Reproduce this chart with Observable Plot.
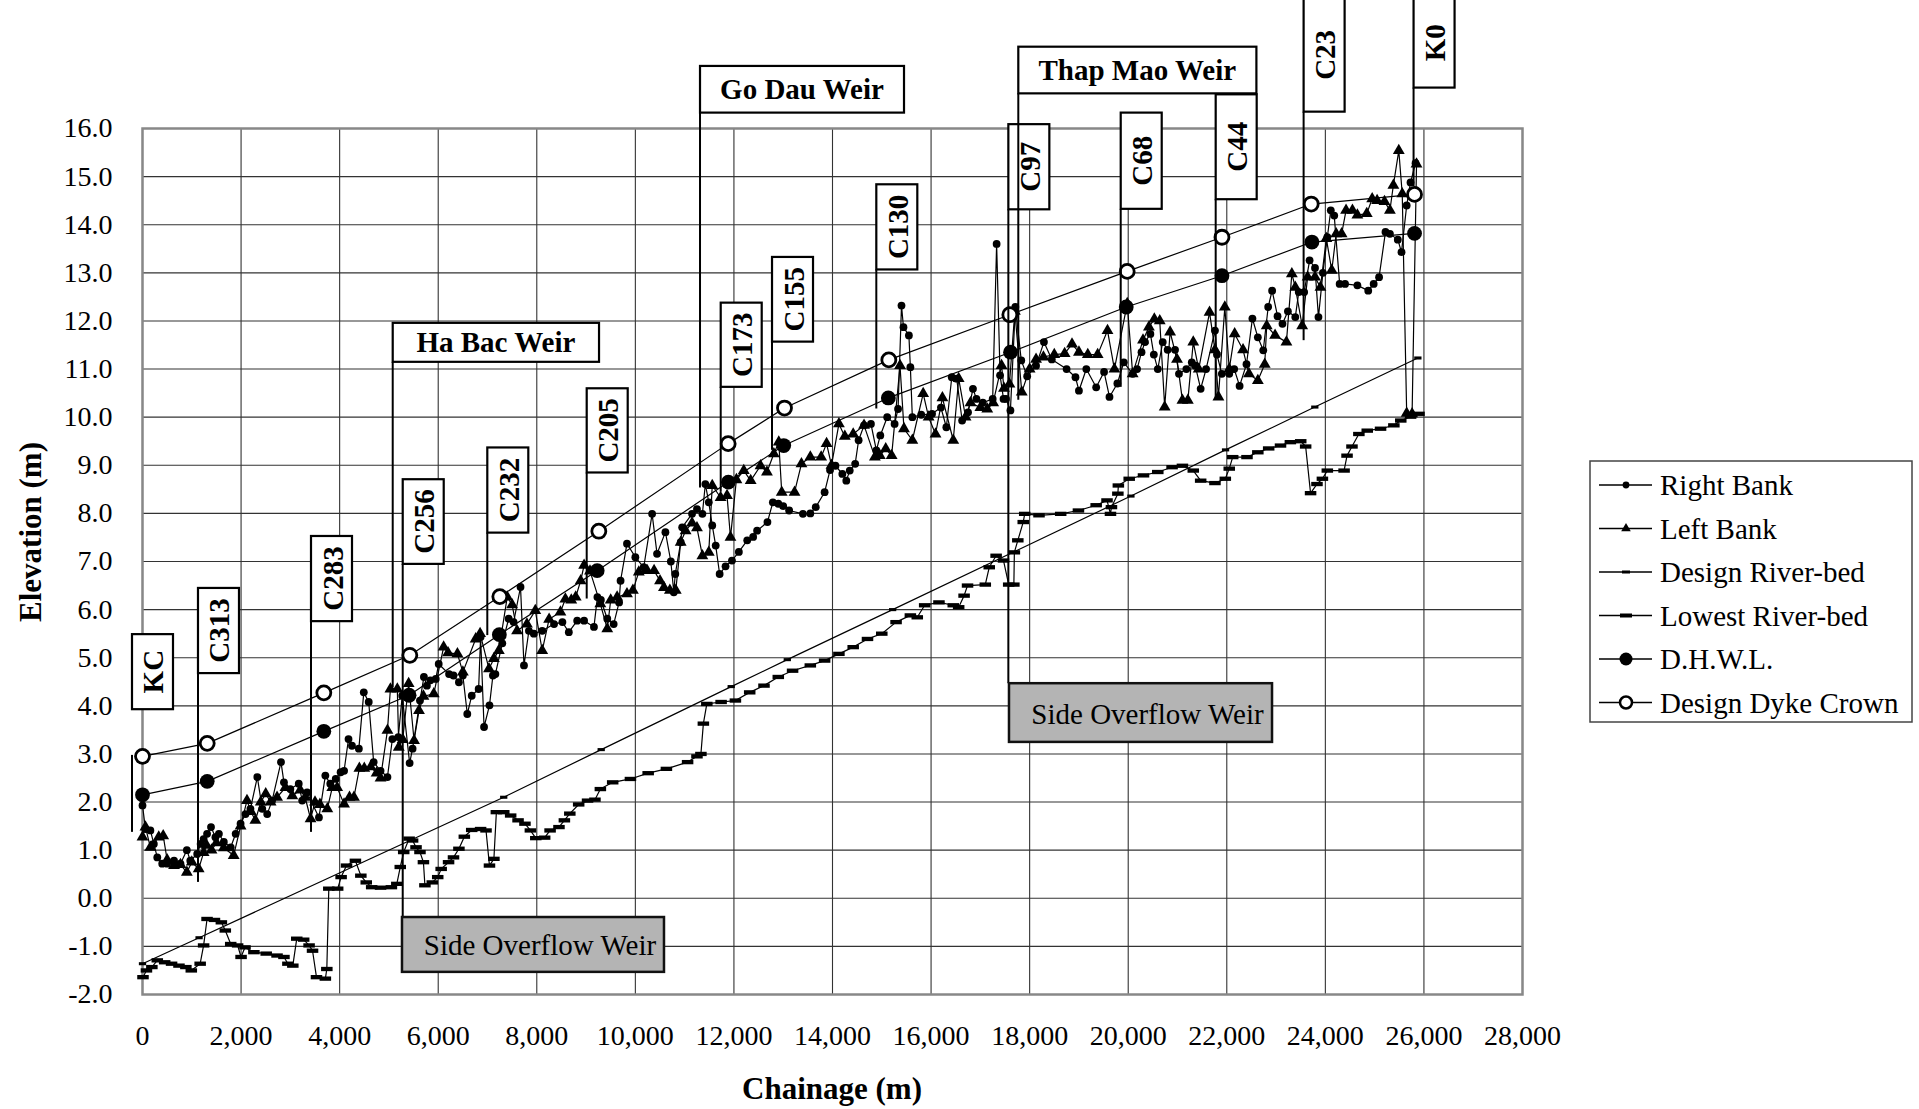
<!DOCTYPE html>
<html><head><meta charset="utf-8">
<script src="https://cdn.jsdelivr.net/npm/d3@7"></script>
<script src="https://cdn.jsdelivr.net/npm/@observablehq/plot@0.6"></script>
<style>body{margin:0;background:#fff;} #chart svg{display:block;}</style>
</head><body><div id="chart"></div>
<script>
// ---------------- DATA (chainage m, elevation m) ----------------
const rightBank = [[0,1.93],[60,1.44],[160,1.41],[230,1.13],[300,0.85],[400,0.72],[500,0.72],[640,0.78],[770,0.72],[900,1.0],[970,0.78],[1110,0.92],[1180,1.13],[1240,1.23],[1310,1.34],[1390,1.48],[1480,1.27],[1550,1.34],[1650,1.17],[1790,1.06],[1890,1.34],[1990,1.55],[2090,1.75],[2190,1.86],[2330,2.52],[2430,1.86],[2530,1.75],[2630,2.03],[2810,2.83],[2870,2.41],[3000,2.27],[3170,2.38],[3240,2.03],[3340,2.2],[3580,1.68],[3710,2.55],[3810,2.38],[3920,2.48],[4020,2.62],[4090,2.65],[4180,3.31],[4250,3.17],[4390,3.11],[4490,4.28],[4590,4.08],[4690,2.83],[4830,2.65],[4970,2.52],[5070,3.31],[5190,3.35],[5270,4.21],[5420,2.81],[5480,3.11],[5630,4.11],[5710,4.6],[5770,4.42],[5840,4.53],[5950,4.56],[6010,4.87],[6220,4.66],[6310,4.63],[6420,4.49],[6500,4.63],[6590,3.83],[6680,4.21],[6820,4.35],[6860,5.43],[6930,3.56],[7040,4.01],[7110,4.63],[7160,4.66],[7300,5.3],[7430,5.81],[7530,5.74],[7670,6.47],[7740,4.84],[7840,5.56],[7940,5.5],[8110,5.56],[8350,5.7],[8520,5.74],[8650,5.53],[8820,5.77],[8960,5.77],[9160,5.64],[9230,6.26],[9300,6.2],[9430,5.81],[9560,5.7],[9670,6.15],[9700,6.6],[9830,7.37],[10000,7.09],[10170,6.88],[10340,7.99],[10440,7.16],[10610,7.61],[10720,7.0],[10780,6.36],[10810,6.74],[10920,7.4],[10950,7.71],[11150,7.99],[11250,8.09],[11360,7.99],[11420,8.61],[11490,8.23],[11560,7.75],[11630,7.33],[11710,6.74],[11830,6.9],[11960,7.02],[12100,7.2],[12270,7.44],[12390,7.51],[12470,7.64],[12680,7.82],[12790,8.23],[12900,8.2],[13000,8.15],[13120,8.06],[13400,7.99],[13550,8.0],[13660,8.13],[13840,8.44],[13950,8.9],[14060,8.99],[14200,8.82],[14280,8.68],[14350,8.89],[14460,9.03],[14530,9.52],[14640,9.83],[14780,9.86],[14890,9.31],[14970,9.62],[15110,10.0],[15260,9.86],[15330,10.17],[15400,12.32],[15440,11.87],[15550,11.7],[15580,11.04],[15620,10.0],[15800,10.05],[16020,10.07],[16200,10.2],[16310,9.79],[16420,10.83],[16520,10.8],[16630,9.93],[16750,10.1],[16850,10.59],[16920,10.38],[17050,10.3],[17250,10.38],[17330,13.6],[17400,10.87],[17470,10.38],[17520,10.38],[17610,10.14],[17710,12.29],[17830,11.18],[17950,10.85],[18130,11.07],[18290,11.56],[18450,11.2],[18750,11.0],[18930,10.83],[19000,10.55],[19150,11.0],[19350,10.62],[19510,10.94],[19620,10.42],[19780,10.7],[19910,11.14],[20090,10.9],[20180,11.0],[20270,11.35],[20340,11.56],[20450,11.73],[20520,11.3],[20600,11.0],[20700,11.56],[20800,11.4],[20950,11.4],[21030,10.9],[21180,11.0],[21290,11.14],[21360,11.07],[21470,10.59],[21580,11.0],[21760,11.8],[21800,11.3],[21900,10.9],[22050,10.9],[22150,11.0],[22260,10.65],[22400,11.1],[22520,12.05],[22630,11.66],[22740,11.39],[22840,12.29],[22920,12.63],[23030,12.1],[23130,11.94],[23240,12.2],[23390,12.08],[23460,12.6],[23570,12.6],[23680,13.26],[23790,13.1],[23860,12.08],[23950,13.0],[24040,13.74],[24110,14.3],[24180,14.19],[24290,12.77],[24400,12.77],[24650,12.74],[24870,12.63],[24980,12.77],[25090,12.91],[25220,13.85],[25310,13.81],[25470,13.69],[25545,13.43],[25650,14.4],[25728,14.88],[25830,15.28]];

const leftBank = [[0,1.27],[60,1.48],[160,1.06],[330,1.27],[420,1.3],[500,0.8],[640,0.68],[770,0.7],[900,0.54],[1000,0.75],[1140,0.61],[1240,0.95],[1300,1.1],[1400,1.0],[1500,1.15],[1650,1.05],[1850,0.89],[1990,1.5],[2120,2.03],[2200,1.8],[2290,1.62],[2400,2.0],[2500,2.17],[2600,2.0],[2730,2.1],[2900,2.3],[3040,2.13],[3200,2.25],[3300,2.1],[3410,1.65],[3500,2.0],[3600,1.95],[3750,1.86],[3850,2.3],[3950,2.3],[4090,1.96],[4200,2.1],[4290,2.1],[4400,2.7],[4500,2.7],[4630,2.73],[4750,2.6],[4830,2.5],[4970,3.49],[5030,4.35],[5170,4.35],[5200,3.14],[5280,3.3],[5400,4.46],[5510,3.28],[5610,3.9],[5700,4.2],[5910,4.25],[6110,5.22],[6200,5.1],[6390,5.08],[6500,4.7],[6760,5.39],[6850,5.5],[7030,4.77],[7130,4.98],[7230,5.15],[7400,6.26],[7500,6.1],[7600,5.56],[7800,5.7],[7970,5.98],[8110,5.15],[8250,5.8],[8480,5.95],[8580,6.22],[8700,6.2],[8790,6.26],[8890,6.6],[8960,6.92],[9080,6.8],[9290,6.12],[9430,5.6],[9500,6.2],[9630,6.26],[9830,6.33],[9950,6.4],[10070,6.78],[10240,6.81],[10380,6.81],[10500,6.6],[10580,6.46],[10700,6.4],[10820,6.4],[10920,7.4],[11020,7.64],[11150,7.8],[11250,7.7],[11360,7.12],[11490,7.19],[11560,8.58],[11730,8.33],[11860,8.37],[11930,7.5],[12050,8.7],[12200,8.89],[12340,8.68],[12540,8.99],[12670,8.86],[12810,9.24],[12910,9.48],[12970,8.44],[13230,8.44],[13370,9.03],[13550,9.17],[13770,9.17],[13880,9.45],[13980,9.0],[14130,9.86],[14250,9.6],[14420,9.65],[14640,9.83],[14860,9.17],[14960,9.2],[15080,9.34],[15200,9.2],[15370,11.07],[15450,9.76],[15620,9.52],[15840,10.49],[15950,10.0],[16090,9.65],[16230,10.4],[16450,9.52],[16560,10.8],[16700,10.0],[16800,10.3],[17000,10.2],[17140,10.17],[17260,10.3],[17430,11.07],[17480,10.6],[17590,10.69],[17700,12.2],[17840,10.52],[18000,11.0],[18130,11.2],[18280,11.25],[18500,11.3],[18710,11.32],[18860,11.52],[19000,11.35],[19180,11.3],[19380,11.3],[19580,11.8],[19720,11.0],[19980,12.36],[20090,10.9],[20300,11.6],[20420,11.87],[20530,12.04],[20640,12.0],[20740,10.21],[20850,11.77],[20990,11.2],[21100,10.35],[21210,10.35],[21320,11.56],[21430,11.0],[21650,12.18],[21760,11.4],[21830,10.42],[21960,12.29],[22050,11.0],[22160,11.73],[22330,11.4],[22450,10.9],[22630,10.76],[22770,11.1],[22810,11.9],[22980,11.7],[23210,11.56],[23320,12.98],[23390,12.7],[23530,11.9],[23640,12.91],[23790,12.91],[23900,12.7],[24020,13.71],[24130,13.05],[24220,13.81],[24330,13.81],[24420,14.3],[24550,14.3],[24650,14.2],[24840,14.23],[24950,14.54],[25050,14.5],[25200,14.48],[25310,14.3],[25380,14.82],[25490,15.54],[25560,14.64],[25650,10.08],[25760,10.07],[25850,15.26]];

const designRiverBed = [[0,-1.36],[1148,-0.82],[7329,2.1],[9307,3.09],[11945,4.4],[13083,4.96],[15220,6.0],[20055,8.36],[21975,9.32],[23786,10.21],[25877,11.23]];

const lowestRiverBed = [[10,-1.64],[80,-1.5],[190,-1.43],[300,-1.29],[450,-1.33],[590,-1.36],[740,-1.4],[880,-1.43],[990,-1.5],[1170,-1.36],[1240,-0.98],[1310,-0.43],[1460,-0.45],[1600,-0.5],[1680,-0.67],[1790,-0.95],[1930,-0.98],[2000,-1.22],[2080,-1.02],[2260,-1.12],[2510,-1.15],[2730,-1.19],[2870,-1.22],[2950,-1.36],[3050,-1.4],[3130,-0.84],[3270,-0.86],[3380,-0.98],[3450,-1.09],[3530,-1.64],[3710,-1.67],[3740,-1.47],[3780,0.2],[3960,0.2],[4030,0.44],[4140,0.68],[4320,0.78],[4430,0.47],[4540,0.33],[4650,0.23],[4830,0.22],[5050,0.23],[5160,0.3],[5230,0.65],[5300,0.96],[5410,1.24],[5480,1.2],[5550,1.06],[5630,0.96],[5700,0.75],[5730,0.27],[5880,0.33],[5990,0.44],[6060,0.61],[6210,0.75],[6310,0.85],[6420,1.03],[6530,1.28],[6680,1.42],[6860,1.44],[6970,1.41],[7040,0.68],[7130,0.82],[7180,1.79],[7330,1.79],[7470,1.72],[7620,1.62],[7760,1.55],[7870,1.41],[7980,1.25],[8160,1.26],[8270,1.41],[8450,1.48],[8560,1.62],[8670,1.76],[8850,1.95],[9030,2.03],[9180,2.05],[9290,2.27],[9540,2.41],[9900,2.48],[10260,2.6],[10630,2.69],[11060,2.83],[11250,2.95],[11330,3.0],[11380,3.63],[11450,4.04],[11740,4.08],[12030,4.11],[12320,4.28],[12610,4.42],[12900,4.6],[13190,4.73],[13550,4.84],[13840,4.94],[14130,5.08],[14420,5.22],[14710,5.39],[15000,5.5],[15290,5.74],[15580,5.88],[15720,5.84],[15870,6.09],[16160,6.15],[16450,6.09],[16560,6.05],[16670,6.29],[16740,6.5],[17100,6.52],[17180,6.88],[17320,7.12],[17470,7.02],[17575,6.52],[17680,6.52],[17690,7.19],[17760,7.44],[17870,7.82],[17900,7.99],[18190,7.96],[18630,7.99],[18990,8.06],[19350,8.17],[19570,8.27],[19640,7.99],[19660,8.13],[19790,8.41],[19800,8.58],[20020,8.72],[20310,8.79],[20600,8.86],[20890,8.96],[21100,8.99],[21320,8.89],[21470,8.68],[21760,8.63],[21970,8.72],[22050,8.93],[22120,9.17],[22410,9.17],[22630,9.27],[22850,9.35],[23090,9.41],[23290,9.48],[23500,9.5],[23600,9.39],[23700,8.42],[23830,8.61],[23940,8.72],[24040,8.89],[24380,8.89],[24440,9.2],[24540,9.39],[24680,9.65],[24850,9.72],[25120,9.76],[25390,9.83],[25530,9.93],[25730,10.01],[25900,10.07]];

const dhwl = [[0,2.15],[1313,2.43],[3679,3.47],[5409,4.22],[7240,5.48],[9225,6.81],[11887,8.65],[13010,9.41],[15133,10.4],[17612,11.35],[19960,12.29],[21902,12.94],[23727,13.64],[25809,13.82]];

const dykeCrown = [[0,2.95],[1313,3.22],[3679,4.27],[5424,5.05],[7250,6.27],[9259,7.63],[11883,9.45],[13026,10.19],[15143,11.19],[17598,12.13],[19979,13.03],[21902,13.74],[23713,14.43],[25809,14.63]];

// Section labels: name, chainage of pointer, box top / bottom elevation, pointer end elevation
const sectionNames    = ["KC","C313","C283","C256","C232","C205","C173","C155","C130","C97","C68","C44","C23","K0"];
const sectionChainage = [-203,1136,3429,5290,7006,9023,11742,12783,14899,17578,19858,21785,23569,25800];
const sectionBoxTop   = [5.48,6.44,7.52,8.70,9.36,10.59,12.37,13.32,14.83,16.08,16.32,16.70,18.70,18.70];
const sectionBoxBot   = [3.92,4.67,5.75,6.94,7.59,8.84,10.62,11.56,13.06,14.31,14.32,14.52,16.34,16.84];
const sectionLineEnd  = [1.37,0.33,1.37,-0.40,5.46,6.22,8.44,9.31,10.17,4.46,10.62,10.39,11.59,14.79];
const kcLineTop = 2.97;

// Weir labels
const weirNames    = ["Ha Bac Weir","Go Dau Weir","Thap Mao Weir"];
const weirChainage = [5087,11322,17780];
const weirRight    = [9273,15461,22611];
const weirBoxTop   = [11.95,17.29,17.69];
const weirBoxBot   = [11.14,16.32,16.72];
const weirLineEnd  = [4.38,8.53,10.35];

// Side overflow weir boxes
const sowLeft  = [5275,17591];
const sowRight = [10591,22928];
const sowTop   = [-0.40,4.46];
const sowBot   = [-1.54,3.24];

const xTicks = d3.range(0, 28001, 2000);
const yTicks = d3.range(-2, 16.001, 1);
const legendLabels = ["Right Bank","Left Bank","Design River-bed","Lowest River-bed","D.H.W.L.","Design Dyke Crown"];

// ---------------- CHART ----------------
const W = 1919, H = 1109;
const FONT = "'Liberation Serif','Times New Roman',serif";
const obj = a => a.map(([c, e]) => ({c, e}));
const dash = (kx, ky) => ({draw(ctx, size) {
  const r = Math.sqrt(size / Math.PI);
  ctx.moveTo(-r * kx, -r * ky); ctx.lineTo(r * kx, -r * ky);
  ctx.lineTo(r * kx, r * ky); ctx.lineTo(-r * kx, r * ky); ctx.closePath();
}});
const lineOpt = {x: "c", y: "e", stroke: "#000", strokeWidth: 1.2};

const plot = Plot.plot({
  width: W, height: H,
  marginLeft: 142, marginTop: 128, marginRight: W - 1522, marginBottom: H - 994,
  style: {fontFamily: FONT, fontSize: "28px", background: "#fff", color: "#000", overflow: "visible"},
  x: {domain: [0, 28000], ticks: xTicks, tickFormat: d3.format(","), label: null, tickSize: 0, tickPadding: 31},
  y: {domain: [-2, 16], ticks: yTicks, tickFormat: d => d.toFixed(1), label: null, tickSize: 0, tickPadding: 30},
  marks: [
    Plot.ruleX(xTicks, {stroke: "#333", strokeWidth: 1.1}),
    Plot.ruleY(yTicks, {stroke: "#333", strokeWidth: 1.1}),
    Plot.frame({stroke: "#888", strokeWidth: 2.5}),
    Plot.line(obj(lowestRiverBed), lineOpt),
    Plot.dot(obj(lowestRiverBed), {x: "c", y: "e", r: 3.6, symbol: dash(1.6, 0.6), fill: "#000", stroke: "none"}),
    Plot.line(obj(designRiverBed), lineOpt),
    Plot.dot(obj(designRiverBed), {x: "c", y: "e", r: 2.8, symbol: dash(1.3, 0.55), fill: "#000", stroke: "none"}),
    Plot.line(obj(leftBank), lineOpt),
    Plot.dot(obj(leftBank), {x: "c", y: "e", r: 4.4, symbol: "triangle", fill: "#000", stroke: "none"}),
    Plot.line(obj(rightBank), lineOpt),
    Plot.dot(obj(rightBank), {x: "c", y: "e", r: 3.9, fill: "#000", stroke: "none"}),
    Plot.line(obj(dhwl), lineOpt),
    Plot.dot(obj(dhwl), {x: "c", y: "e", r: 7.4, fill: "#000", stroke: "none"}),
    Plot.line(obj(dykeCrown), lineOpt),
    Plot.dot(obj(dykeCrown), {x: "c", y: "e", r: 7, fill: "#fff", stroke: "#000", strokeWidth: 2.8})
  ]
});
document.getElementById("chart").appendChild(plot);

// ---------------- ANNOTATIONS ----------------
const X = v => plot.scale("x").apply(v), Y = v => plot.scale("y").apply(v);
const svg = d3.select(plot);
const g = svg.append("g").attr("font-family", FONT).attr("fill", "#000").attr("text-anchor", "start");
const BW = 41;

// section pointer lines and boxes
sectionNames.forEach((name, i) => {
  const x = X(sectionChainage[i]);
  const y1 = i === 0 ? Y(kcLineTop) : Y(sectionBoxBot[i]);
  g.append("line").attr("x1", x).attr("x2", x).attr("y1", y1).attr("y2", Y(sectionLineEnd[i]))
    .attr("stroke", "#000").attr("stroke-width", 2);
  const yt = Y(sectionBoxTop[i]), yb = Y(sectionBoxBot[i]);
  g.append("rect").attr("x", x).attr("y", yt).attr("width", BW).attr("height", yb - yt)
    .attr("fill", "#fff").attr("stroke", "#000").attr("stroke-width", 2.2);
  g.append("text").attr("transform", `translate(${x + BW / 2 + 1},${(yt + yb) / 2}) rotate(-90)`)
    .attr("text-anchor", "middle").attr("dominant-baseline", "central")
    .attr("font-weight", "bold").attr("font-size", 29).text(name);
});

// weir boxes
weirNames.forEach((name, i) => {
  const x = X(weirChainage[i]), xr = X(weirRight[i]);
  const yt = Y(weirBoxTop[i]), yb = Y(weirBoxBot[i]);
  g.append("line").attr("x1", x).attr("x2", x).attr("y1", yb).attr("y2", Y(weirLineEnd[i]))
    .attr("stroke", "#000").attr("stroke-width", 2);
  g.append("rect").attr("x", x).attr("y", yt).attr("width", xr - x).attr("height", yb - yt)
    .attr("fill", "#fff").attr("stroke", "#000").attr("stroke-width", 2.2);
  g.append("text").attr("x", (x + xr) / 2).attr("y", (yt + yb) / 2)
    .attr("text-anchor", "middle").attr("dominant-baseline", "central")
    .attr("font-weight", "bold").attr("font-size", 29).text(name);
});

// side overflow weir boxes
sowLeft.forEach((l, i) => {
  const x = X(l), xr = X(sowRight[i]), yt = Y(sowTop[i]), yb = Y(sowBot[i]);
  g.append("rect").attr("x", x).attr("y", yt).attr("width", xr - x).attr("height", yb - yt)
    .attr("fill", "#b4b4b4").attr("stroke", "#111").attr("stroke-width", 2.5);
  g.append("text").attr("x", (x + xr) / 2 + 7).attr("y", (yt + yb) / 2 + 1)
    .attr("text-anchor", "middle").attr("dominant-baseline", "central")
    .attr("font-size", 29).text("Side Overflow Weir");
});

// axis titles
g.append("text").attr("transform", `translate(30,532) rotate(-90)`)
  .attr("text-anchor", "middle").attr("dominant-baseline", "central")
  .attr("font-weight", "bold").attr("font-size", 31).text("Elevation (m)");
g.append("text").attr("x", 832).attr("y", 1099)
  .attr("text-anchor", "middle").attr("font-weight", "bold").attr("font-size", 31).text("Chainage (m)");

// legend
const lg = g.append("g");
lg.append("rect").attr("x", 1590).attr("y", 461).attr("width", 322).attr("height", 261)
  .attr("fill", "#fff").attr("stroke", "#444").attr("stroke-width", 1.5);
legendLabels.forEach((lab, i) => {
  const cy = 485 + i * 43.5;
  lg.append("line").attr("x1", 1599).attr("x2", 1652).attr("y1", cy).attr("y2", cy)
    .attr("stroke", "#000").attr("stroke-width", 1.3);
  const mx = 1626;
  if (i === 0) lg.append("circle").attr("cx", mx).attr("cy", cy).attr("r", 3.4).attr("fill", "#000");
  if (i === 1) lg.append("path").attr("transform", `translate(${mx},${cy})`).attr("d", d3.symbol(d3.symbolTriangle, 40)()).attr("fill", "#000");
  if (i === 2) lg.append("rect").attr("x", mx - 4).attr("y", cy - 1.5).attr("width", 8).attr("height", 3).attr("fill", "#000");
  if (i === 3) lg.append("rect").attr("x", mx - 6).attr("y", cy - 2).attr("width", 12).attr("height", 4).attr("fill", "#000");
  if (i === 4) lg.append("circle").attr("cx", mx).attr("cy", cy).attr("r", 6.5).attr("fill", "#000");
  if (i === 5) lg.append("circle").attr("cx", mx).attr("cy", cy).attr("r", 6).attr("fill", "#fff").attr("stroke", "#000").attr("stroke-width", 2.5);
  lg.append("text").attr("x", 1660).attr("y", cy + 10).attr("text-anchor", "start").attr("font-size", 29).text(lab);
});
</script></body></html>
